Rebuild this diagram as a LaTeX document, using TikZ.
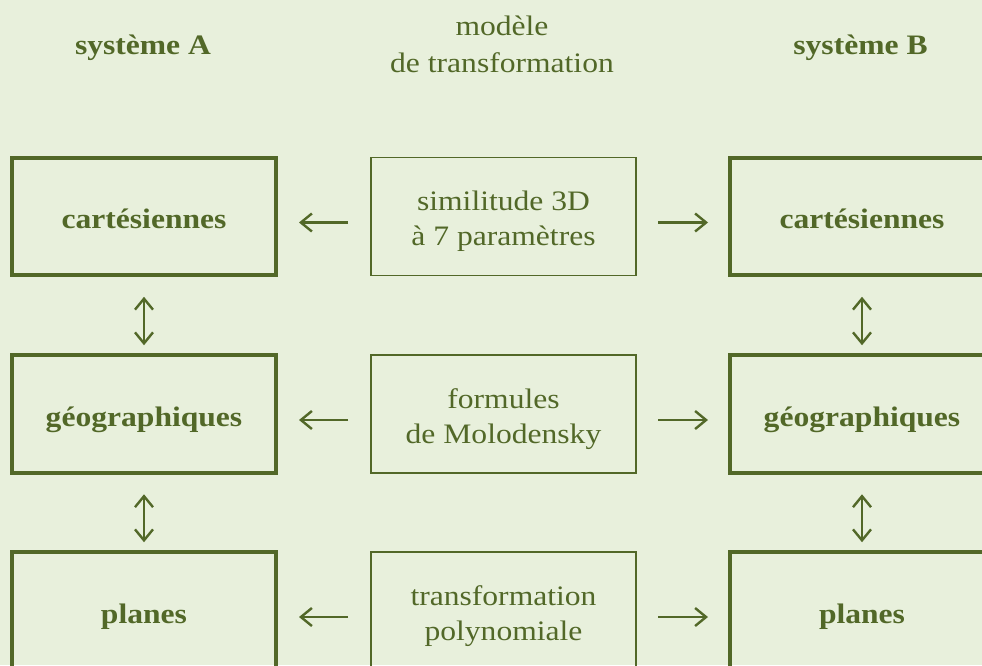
\documentclass[tikz,border=0pt]{standalone}
\usepackage{fontspec}
\usepackage{graphicx}
\setmainfont{Liberation Serif}
\usetikzlibrary{arrows.meta}
\definecolor{olive}{RGB}{82,104,40}
\definecolor{bgc}{RGB}{232,240,220}
\newcommand{\wide}[1]{\scalebox{1.12}[1]{#1}}
\newcommand{\twolines}[3][0pt]{\scalebox{1.12}[1]{\begin{tabular}[t]{@{}c@{}}#2\\[#1]#3\end{tabular}}}
\begin{document}
\begin{tikzpicture}[x=1pt,y=-1pt,
  every node/.style={text=olive, font=\fontsize{28.2}{35}\selectfont},
  sysbox/.style={draw=olive, line width=4pt, minimum width=264pt, minimum height=117.5pt,
    inner sep=0pt, outer sep=0pt, font=\fontsize{28.2}{35}\selectfont\bfseries,
    text height=24pt, text depth=0pt},
  modbox/.style={draw=olive, line width=1.6pt, minimum width=265pt, minimum height=118pt,
    inner sep=0pt, outer sep=0pt, text height=10pt, text depth=22pt},
  harr/.style={draw=olive, line width=2.4pt, -{Straight Barb[length=11pt,width=18pt]}},
  varr/.style={draw=olive, line width=2.4pt, {Straight Barb[length=11pt,width=18pt]}-{Straight Barb[length=11pt,width=18pt]},
    shorten <=21.5pt, shorten >=10pt},
  head/.style={inner sep=0pt, anchor=base}]
\useasboundingbox (0,0) rectangle (982,665);
\clip (0,0) rectangle (982,665);
\fill[bgc] (0,0) rectangle (982,665);

% headers
\node[head, font=\fontsize{28.2}{35}\selectfont\bfseries] (hA) at (143,54) {\wide{système A}};
\node[head] (hM) at (502,35) {\twolines[2pt]{modèle}{de transformation}};
\node[head, font=\fontsize{28.2}{35}\selectfont\bfseries] (hB) at (860.5,54) {\wide{système B}};

% left column
\node[sysbox] (a1) at (144,216.5) {\wide{cartésiennes}};
\node[sysbox] (a2) at (144,414) {\wide{géographiques}};
\node[sysbox] (a3) at (144,611) {\wide{planes}};

% middle column
\node[modbox] (m1) at (503.5,216.5) {\twolines{similitude 3D}{à 7 paramètres}};
\node[modbox] (m2) at (503.5,414) {\twolines{formules}{de Molodensky}};
\node[modbox] (m3) at (503.5,611) {\twolines{transformation}{polynomiale}};

% right column
\node[sysbox] (b1) at (862,216.5) {\wide{cartésiennes}};
\node[sysbox] (b2) at (862,414) {\wide{géographiques}};
\node[sysbox] (b3) at (862,611) {\wide{planes}};

% horizontal arrows
\foreach \r in {1,2,3}{
  \draw[harr, shorten <=23pt, shorten >=23pt] ([yshift=-6pt]m\r.west) -- ([yshift=-6pt]a\r.east);
  \draw[harr, shorten <=22pt, shorten >=22pt] ([yshift=-6pt]m\r.east) -- ([yshift=-6pt]b\r.west);
}

% vertical arrows
\draw[varr] (a1.south) -- (a2.north);
\draw[varr] (a2.south) -- (a3.north);
\draw[varr] (b1.south) -- (b2.north);
\draw[varr] (b2.south) -- (b3.north);
\end{tikzpicture}
\end{document}
